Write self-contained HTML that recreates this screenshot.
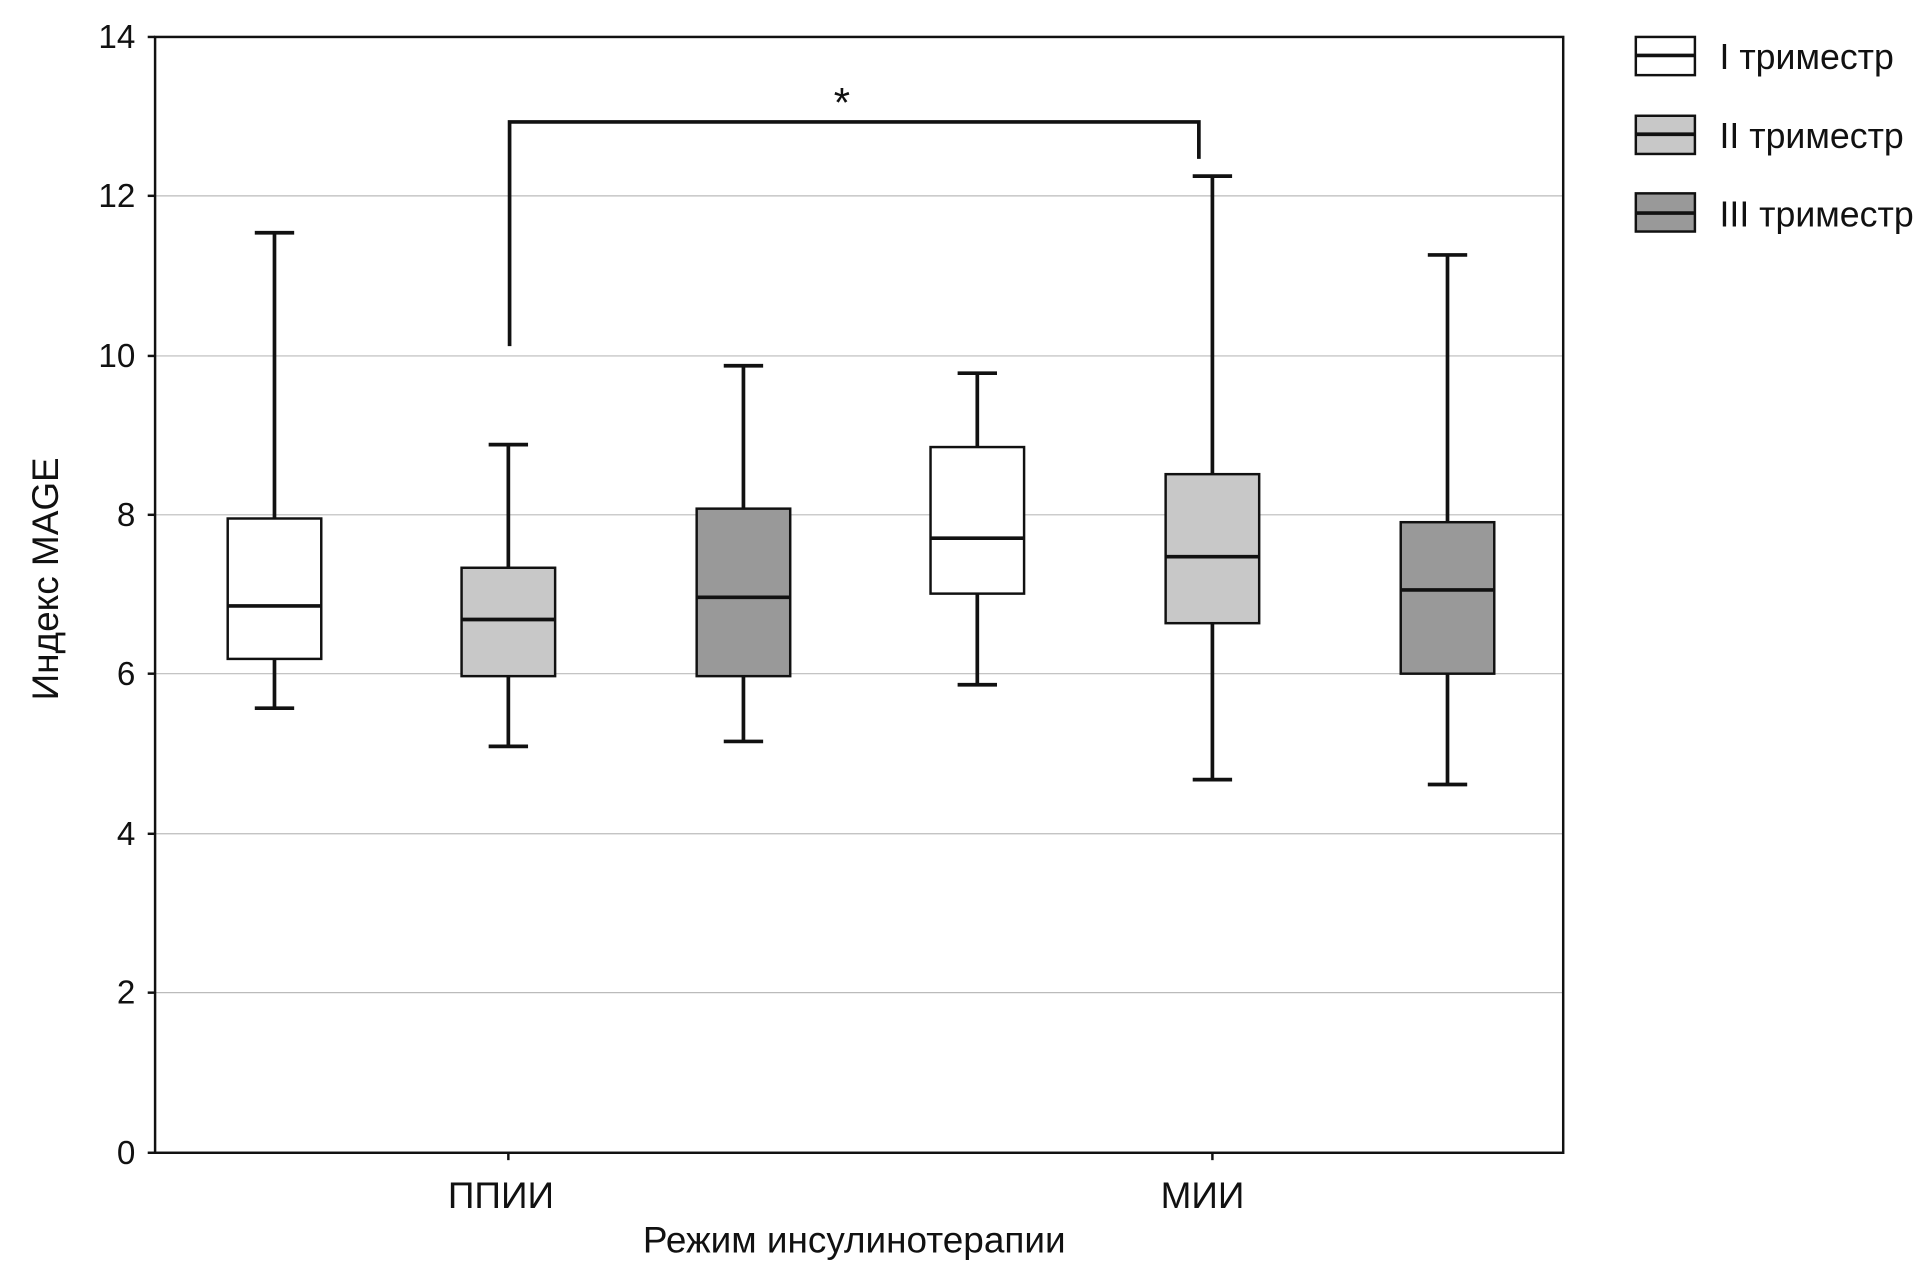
<!DOCTYPE html>
<html><head><meta charset="utf-8"><style>html,body{margin:0;padding:0;background:#fff}svg{display:block}text{font-family:"Liberation Sans",sans-serif;fill:#111}</style></head><body>
<svg width="1930" height="1271" viewBox="0 0 1568 1032" preserveAspectRatio="none" xmlns="http://www.w3.org/2000/svg">
<g stroke="#bbb" stroke-width="1">
<line x1="126" x2="1270" y1="806" y2="806"/><line x1="126" x2="1270" y1="677" y2="677"/><line x1="126" x2="1270" y1="547" y2="547"/><line x1="126" x2="1270" y1="418" y2="418"/><line x1="126" x2="1270" y1="289" y2="289"/><line x1="126" x2="1270" y1="159" y2="159"/>
</g>
<rect x="126" y="30" width="1144" height="906" fill="none" stroke="#111" stroke-width="2"/>
<g stroke="#111" stroke-width="2">
<line x1="120" x2="126" y1="936" y2="936"/><line x1="120" x2="126" y1="806" y2="806"/><line x1="120" x2="126" y1="677" y2="677"/><line x1="120" x2="126" y1="547" y2="547"/><line x1="120" x2="126" y1="418" y2="418"/><line x1="120" x2="126" y1="289" y2="289"/><line x1="120" x2="126" y1="159" y2="159"/><line x1="120" x2="126" y1="30" y2="30"/>
<line x1="413" x2="413" y1="936" y2="942"/><line x1="985" x2="985" y1="936" y2="942"/>
</g>
<g font-size="27" text-anchor="end">
<text x="110" y="945">0</text><text x="110" y="815">2</text><text x="110" y="686">4</text><text x="110" y="556">6</text><text x="110" y="427">8</text><text x="110" y="298">10</text><text x="110" y="168">12</text><text x="110" y="39">14</text>
</g>
<g font-size="30" text-anchor="middle">
<text x="407" y="981">ППИИ</text><text x="977" y="981">МИИ</text>
<text x="694" y="1017">Режим инсулинотерапии</text>
<text transform="translate(47,470) rotate(-90)">Индекс MAGE</text>
</g>
<g stroke="#111" stroke-width="3" fill="none">
<line x1="223" x2="223" y1="189" y2="421"/><line x1="223" x2="223" y1="535" y2="575"/><line x1="207" x2="239" y1="189" y2="189"/><line x1="207" x2="239" y1="575" y2="575"/>
<line x1="413" x2="413" y1="361" y2="461"/><line x1="413" x2="413" y1="549" y2="606"/><line x1="397" x2="429" y1="361" y2="361"/><line x1="397" x2="429" y1="606" y2="606"/>
<line x1="604" x2="604" y1="297" y2="413"/><line x1="604" x2="604" y1="549" y2="602"/><line x1="588" x2="620" y1="297" y2="297"/><line x1="588" x2="620" y1="602" y2="602"/>
<line x1="794" x2="794" y1="303" y2="363"/><line x1="794" x2="794" y1="482" y2="556"/><line x1="778" x2="810" y1="303" y2="303"/><line x1="778" x2="810" y1="556" y2="556"/>
<line x1="985" x2="985" y1="143" y2="385"/><line x1="985" x2="985" y1="506" y2="633"/><line x1="969" x2="1001" y1="143" y2="143"/><line x1="969" x2="1001" y1="633" y2="633"/>
<line x1="1176" x2="1176" y1="207" y2="424"/><line x1="1176" x2="1176" y1="547" y2="637"/><line x1="1160" x2="1192" y1="207" y2="207"/><line x1="1160" x2="1192" y1="637" y2="637"/>
<polyline points="414,281 414,99 974,99 974,129"/>
</g>
<g stroke="#111" stroke-width="2">
<rect x="185" y="421" width="76" height="114" fill="#fff"/>
<rect x="375" y="461" width="76" height="88" fill="#c8c8c8"/>
<rect x="566" y="413" width="76" height="136" fill="#999"/>
<rect x="756" y="363" width="76" height="119" fill="#fff"/>
<rect x="947" y="385" width="76" height="121" fill="#c8c8c8"/>
<rect x="1138" y="424" width="76" height="123" fill="#999"/>
<rect x="1329" y="30" width="48" height="31" fill="#fff"/>
<rect x="1329" y="94" width="48" height="31" fill="#c8c8c8"/>
<rect x="1329" y="157" width="48" height="31" fill="#999"/>
</g>
<g stroke="#111" stroke-width="3">
<line x1="185" x2="261" y1="492" y2="492"/><line x1="375" x2="451" y1="503" y2="503"/><line x1="566" x2="642" y1="485" y2="485"/><line x1="756" x2="832" y1="437" y2="437"/><line x1="947" x2="1023" y1="452" y2="452"/><line x1="1138" x2="1214" y1="479" y2="479"/>
<line x1="1329" x2="1377" y1="45" y2="45"/><line x1="1329" x2="1377" y1="109" y2="109"/><line x1="1329" x2="1377" y1="173" y2="173"/>
</g>
<text x="684" y="95" font-size="34" text-anchor="middle">*</text>
<g font-size="29">
<text x="1397" y="56">I триместр</text><text x="1397" y="120">II триместр</text><text x="1397" y="184">III триместр</text>
</g>
</svg>
</body></html>
